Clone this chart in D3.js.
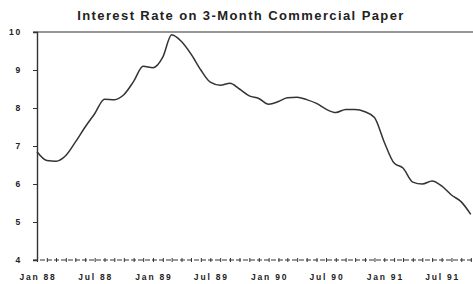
<!DOCTYPE html>
<html>
<head>
<meta charset="utf-8">
<script src="https://cdn.jsdelivr.net/npm/d3@7"></script>
<style>
  body { margin: 0; background: #fff; }
  text { font-family: "Liberation Sans", Arial, sans-serif; fill: #222; }
  .tick-label { font-size: 8.5px; font-weight: bold; letter-spacing: 1.8px; }
  .title { font-size: 13px; font-weight: bold; letter-spacing: 1.4px; }
</style>
</head>
<body>
<div id="chart"></div>
<script>
// monthly observations, Jan 88 .. Oct 91
var months = ["1988-01","1988-02","1988-03","1988-04","1988-05","1988-06",
  "1988-07","1988-08","1988-09","1988-10","1988-11","1988-12",
  "1989-01","1989-02","1989-03","1989-04","1989-05","1989-06",
  "1989-07","1989-08","1989-09","1989-10","1989-11","1989-12",
  "1990-01","1990-02","1990-03","1990-04","1990-05","1990-06",
  "1990-07","1990-08","1990-09","1990-10","1990-11","1990-12",
  "1991-01","1991-02","1991-03","1991-04","1991-05","1991-06",
  "1991-07","1991-08","1991-09","1991-10"];
var rates = [6.85, 6.62, 6.6, 6.75, 7.1, 7.5,
  7.85, 8.23, 8.22, 8.35, 8.7, 9.1,
  9.06, 9.34, 9.93, 9.75, 9.42, 9.0,
  8.68, 8.6, 8.65, 8.5, 8.32, 8.25,
  8.1, 8.17, 8.27, 8.28, 8.22, 8.12,
  7.97, 7.88, 7.96, 7.96, 7.9, 7.75,
  7.1, 6.55, 6.42, 6.05, 6.0, 6.08,
  5.95, 5.71, 5.53, 5.2];
var tickMonths = ["1988-01","1988-07","1989-01","1989-07","1990-01","1990-07","1991-01","1991-07"];
var tickLabels = ["Jan 88","Jul 88","Jan 89","Jul 89","Jan 90","Jul 90","Jan 91","Jul 91"];
var yTicks = [4, 5, 6, 7, 8, 9, 10];

var svgWidth = 473, svgHeight = 284;
var margin = {top: 32, right: 0, bottom: 24, left: 37};
var chartWidth = svgWidth - margin.left - margin.right;
var chartHeight = svgHeight - margin.top - margin.bottom;

var parseMonth = d3.timeParse("%Y-%m");
var data = months.map(function(m, i) {
  return {date: parseMonth(m), rate: rates[i]};
});

var svg = d3.select("#chart").append("svg")
  .attr("width", svgWidth)
  .attr("height", svgHeight);

var chartGroup = svg.append("g")
  .attr("transform", `translate(${margin.left}, ${margin.top})`);

var xScale = d3.scaleTime()
  .domain([parseMonth("1988-01"), new Date(1991, 9, 8)])
  .range([0, chartWidth]);

var yScale = d3.scaleLinear()
  .domain([4, 10])
  .range([chartHeight, 0]);

// title
svg.append("text")
  .attr("class", "title")
  .attr("x", 241)
  .attr("y", 20)
  .attr("text-anchor", "middle")
  .text("Interest Rate on 3-Month Commercial Paper");

// top frame line
chartGroup.append("line")
  .attr("x1", -4).attr("x2", chartWidth)
  .attr("y1", yScale(10)).attr("y2", yScale(10))
  .attr("stroke", "#333").attr("stroke-width", 1.2);

// left axis
var yAxis = d3.axisLeft(yScale).tickValues(yTicks).tickSize(4).tickFormat(d3.format("d"));
var yG = chartGroup.append("g").call(yAxis);
yG.select(".domain").attr("stroke", "#333").attr("stroke-width", 1.4);
yG.selectAll(".tick line").attr("stroke", "#333");
yG.selectAll(".tick text").attr("class", "tick-label").attr("x", -15);

// bottom axis with monthly ticks
var xAxis = d3.axisBottom(xScale).ticks(d3.timeMonth.every(1)).tickSize(2).tickFormat("");
var xG = chartGroup.append("g")
  .attr("transform", `translate(0, ${chartHeight})`)
  .call(xAxis);
xG.select(".domain").remove();
xG.selectAll(".tick line").attr("stroke", "#333").attr("y1", -2);
chartGroup.append("line")
  .attr("x1", -4).attr("x2", chartWidth)
  .attr("y1", chartHeight).attr("y2", chartHeight)
  .attr("stroke", "#333").attr("stroke-width", 1)
  .attr("stroke-dasharray", "5,2");

chartGroup.selectAll(".xlabel")
  .data(tickMonths)
  .enter()
  .append("text")
  .attr("class", "tick-label")
  .attr("x", d => xScale(parseMonth(d)) + 1)
  .attr("y", chartHeight + 20)
  .attr("text-anchor", "middle")
  .text((d, i) => tickLabels[i]);

// rate line
var line = d3.line()
  .x(d => xScale(d.date))
  .y(d => yScale(d.rate))
  .curve(d3.curveMonotoneX);

chartGroup.append("path")
  .datum(data)
  .attr("d", line)
  .attr("fill", "none")
  .attr("stroke", "#333")
  .attr("stroke-width", 1.5);
</script>
</body>
</html>
